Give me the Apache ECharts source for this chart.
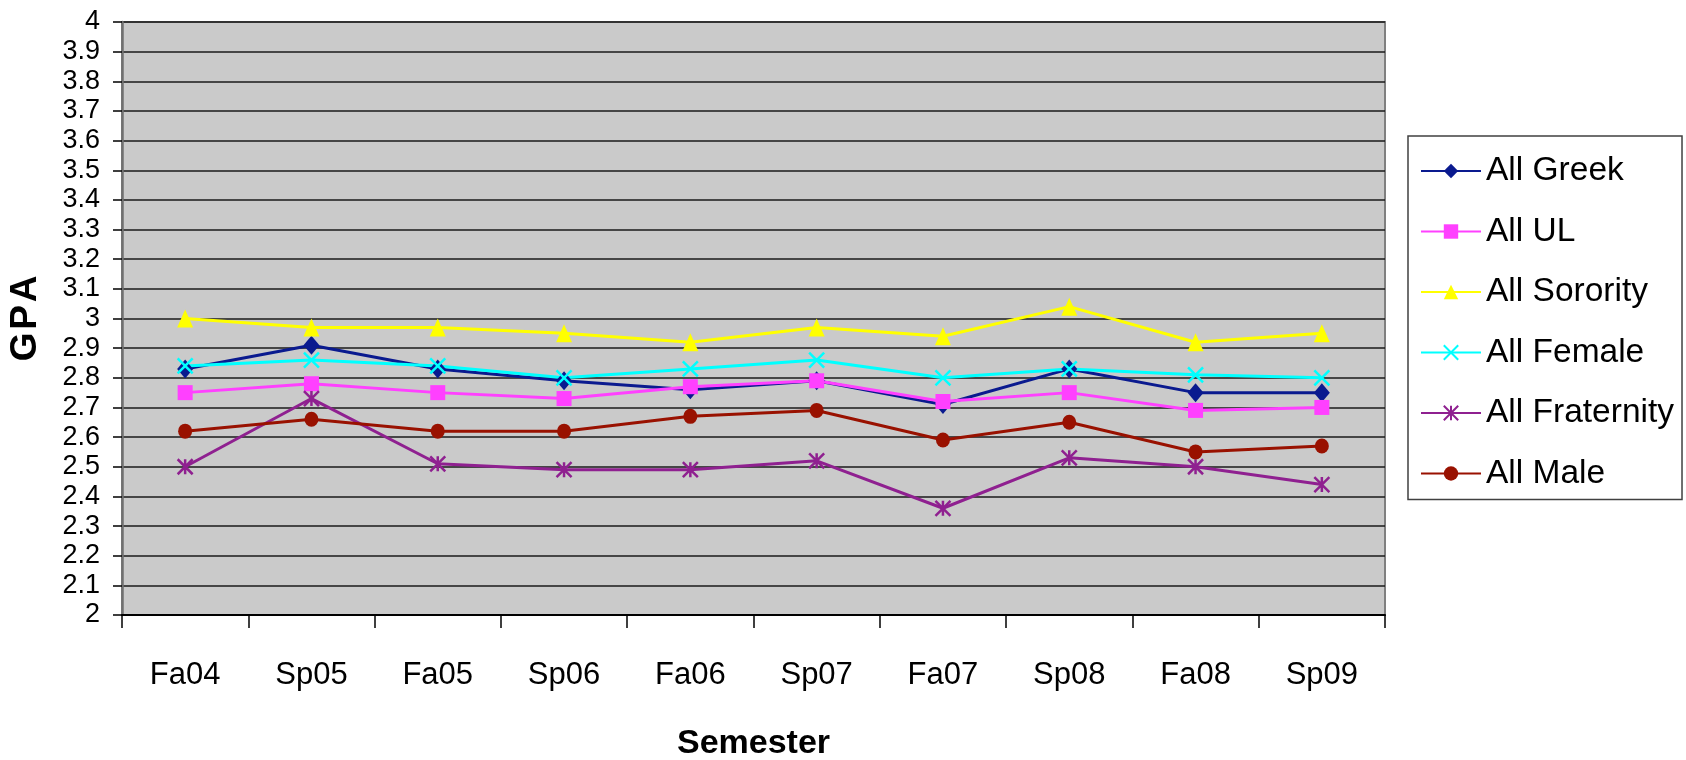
<!DOCTYPE html>
<html>
<head>
<meta charset="utf-8">
<title>GPA by Semester</title>
<script src="https://cdn.jsdelivr.net/npm/echarts@6/dist/echarts.min.js"></script>
<style>
  html, body { margin: 0; padding: 0; background: #ffffff; }
  #chart { width: 1686px; height: 760px; }
</style>
</head>
<body>
<div id="chart"></div>
<script>
// semesters on the x axis
const semesters = ['Fa04', 'Sp05', 'Fa05', 'Sp06', 'Fa06', 'Sp07', 'Fa07', 'Sp08', 'Fa08', 'Sp09'];

// GPA per group
const allGreek = [2.83, 2.91, 2.83, 2.79, 2.76, 2.79, 2.71, 2.83, 2.75, 2.75];
const allUL = [2.75, 2.78, 2.75, 2.73, 2.77, 2.79, 2.72, 2.75, 2.69, 2.70];
const allSorority = [3.00, 2.97, 2.97, 2.95, 2.92, 2.97, 2.94, 3.04, 2.92, 2.95];
const allFemale = [2.84, 2.86, 2.84, 2.80, 2.83, 2.86, 2.80, 2.83, 2.81, 2.80];
const allFraternity = [2.50, 2.73, 2.51, 2.49, 2.49, 2.52, 2.36, 2.53, 2.50, 2.44];
const allMale = [2.62, 2.66, 2.62, 2.62, 2.67, 2.69, 2.59, 2.65, 2.55, 2.57];

// marker shapes (excel style)
const crossPath = 'path://M0,0L10,10M10,0L0,10';
const starPath = 'path://M0,0L10,10M10,0L0,10M5,0L5,10';

const font = 'Liberation Sans, Arial, sans-serif';

let makeSeries = (name, data, color, symbol, size, stroked) => {
  return {
    name: name,
    type: 'line',
    data: data,
    symbol: symbol,
    symbolSize: size,
    showAllSymbol: true,
    lineStyle: { color: color, width: 3 },
    itemStyle: stroked
      ? { color: color, borderColor: color, borderWidth: 2.5 }
      : { color: color, borderWidth: 0 },
    emphasis: { disabled: true },
    z: 3
  };
};

let myChart = echarts.init(document.getElementById('chart'));
myChart.setOption({
  animation: false,
  backgroundColor: '#ffffff',
  textStyle: { fontFamily: font },
  grid: {
    left: 122,
    right: 301,
    top: 22,
    bottom: 145,
    outerBoundsMode: 'none',
    containLabel: false,
    show: true,
    backgroundColor: '#cacaca',
    borderColor: '#808080',
    borderWidth: 2
  },
  legend: {
    orient: 'vertical',
    left: 1408,
    top: 136,
    padding: [15, 8, 6, 12],
    itemWidth: 60,
    itemHeight: 18,
    itemGap: 20.5,
    backgroundColor: '#ffffff',
    borderColor: '#404040',
    borderWidth: 1.5,
    borderRadius: 0,
    textStyle: { fontFamily: font, fontSize: 33.5, lineHeight: 40, color: '#000' },
    data: ['All Greek', 'All UL', 'All Sorority', 'All Female', 'All Fraternity', 'All Male']
  },
  xAxis: {
    type: 'category',
    data: semesters,
    boundaryGap: true,
    name: 'Semester',
    nameLocation: 'middle',
    nameGap: 112,
    nameTextStyle: { fontFamily: font, fontSize: 34, fontWeight: 'bold', color: '#000' },
    axisLine: { lineStyle: { color: '#000', width: 2 } },
    axisTick: { show: true, length: 13, lineStyle: { color: '#000', width: 1.5 } },
    axisLabel: { fontFamily: font, fontSize: 31, color: '#000', margin: 45 },
    splitLine: { show: false }
  },
  yAxis: {
    type: 'value',
    min: 2,
    max: 4,
    interval: 0.1,
    name: '{b|G}{s| }{b|P}{s| }{b|A}',
    nameLocation: 'middle',
    nameRotate: 90,
    nameGap: 78,
    nameTextStyle: {
      color: '#000',
      rich: {
        b: { fontFamily: font, fontSize: 37, fontWeight: 'bold', color: '#000' },
        s: { fontFamily: font, fontSize: 10, color: '#000' }
      }
    },
    axisLine: { show: true, lineStyle: { color: '#707070', width: 2.5 } },
    axisTick: { show: true, length: 9, lineStyle: { color: '#000', width: 1.5 } },
    axisLabel: { fontFamily: font, fontSize: 27, color: '#000', margin: 22 },
    splitLine: { show: true, lineStyle: { color: '#1a1a1a', width: 1.5 } }
  },
  series: [
    makeSeries('All Greek', allGreek, '#0a1a8f', 'diamond', [16, 19], false),
    makeSeries('All UL', allUL, '#ff40ff', 'rect', 15, false),
    makeSeries('All Sorority', allSorority, '#ffff00', 'triangle', [16, 18], false),
    makeSeries('All Female', allFemale, '#00ffff', crossPath, 15, true),
    makeSeries('All Fraternity', allFraternity, '#8f2090', starPath, 15, true),
    makeSeries('All Male', allMale, '#991100', 'circle', [14, 15], false)
  ]
});
</script>
</body>
</html>
